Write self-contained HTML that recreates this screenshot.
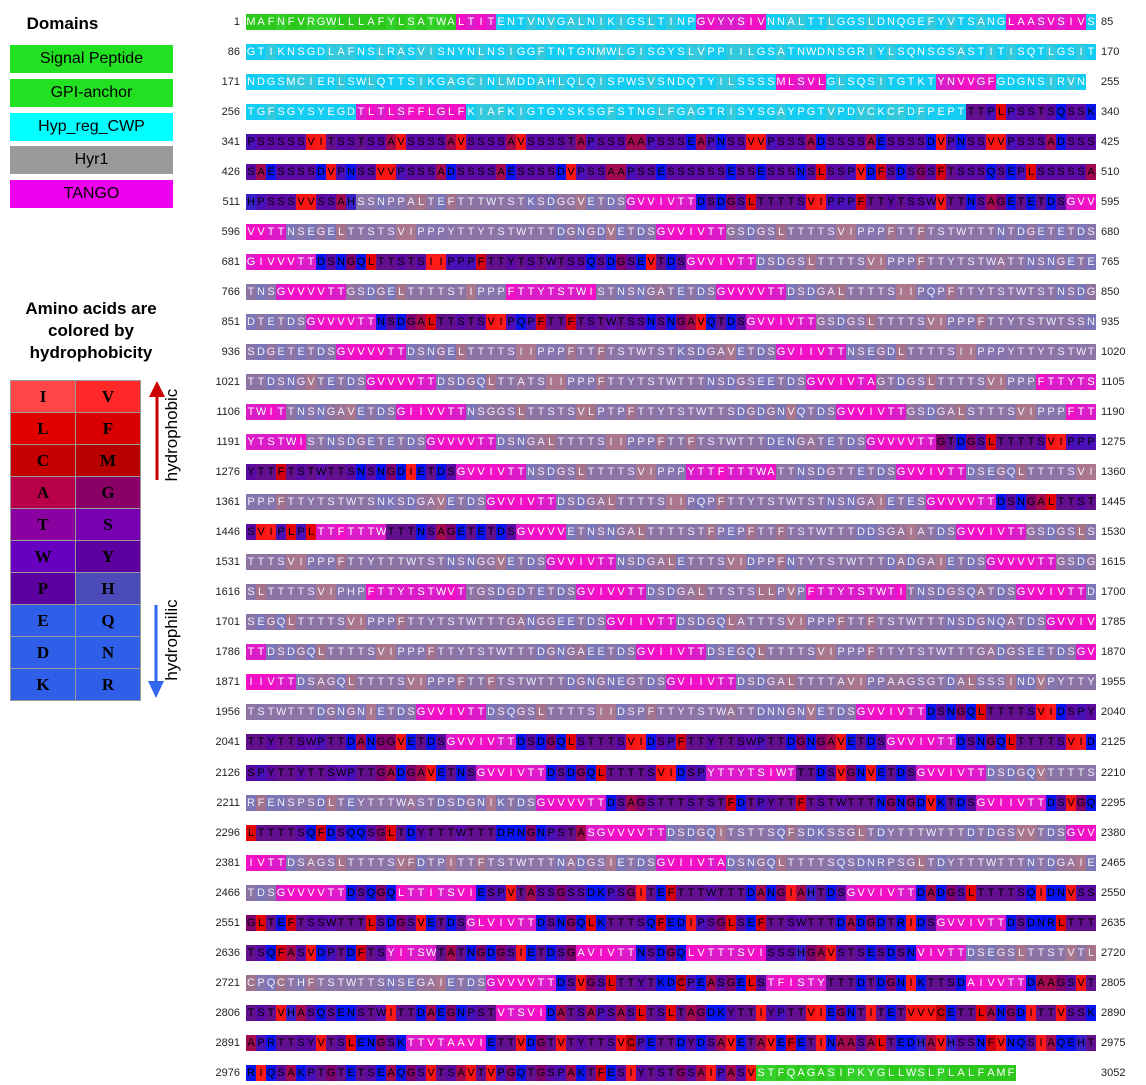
<!DOCTYPE html>
<html><head><meta charset="utf-8"><style>
body{margin:0;background:#fff;width:1146px;height:1085px;position:relative;overflow:hidden;font-family:"Liberation Sans",sans-serif}
.abs{position:absolute}
.dom{position:absolute;left:10px;width:163px;height:28px;font-size:16px;text-align:center;line-height:28px;color:#000}
.cell{position:absolute;width:10px;height:16px;font-size:11px;line-height:16px;text-align:center;font-family:"Liberation Sans",sans-serif}
.num{position:absolute;font-size:11px;line-height:16px;color:#222}
table.aa{position:absolute;left:10px;top:380px;border-collapse:collapse}
table.aa td{width:64px;height:31px;border:1px solid #999;text-align:center;font:bold 17px "Liberation Serif",serif;color:#000;padding:0}
</style></head><body>
<div class="abs" style="left:10px;top:14px;width:105px;text-align:center;font-weight:bold;font-size:17px">Domains</div>
<div class="dom" style="top:45px;background:#22e022">Signal Peptide</div>
<div class="dom" style="top:79px;background:#22e022">GPI-anchor</div>
<div class="dom" style="top:113px;background:#00ffff">Hyp_reg_CWP</div>
<div class="dom" style="top:146px;background:#9a9a9a">Hyr1</div>
<div class="dom" style="top:180px;background:#ee00ee">TANGO</div>
<div class="abs" style="left:0;top:298px;width:182px;text-align:center;font-weight:bold;font-size:17px;line-height:22px">Amino acids are<br>colored by<br>hydrophobicity</div>
<table class="aa">
<tr><td style="background:#ff4545">I</td><td style="background:#ff2828">V</td></tr>
<tr><td style="background:#e00000">L</td><td style="background:#d80000">F</td></tr>
<tr><td style="background:#c40000">C</td><td style="background:#b80000">M</td></tr>
<tr><td style="background:#b8004a">A</td><td style="background:#8a0066">G</td></tr>
<tr><td style="background:#8a00a0">T</td><td style="background:#7800b0">S</td></tr>
<tr><td style="background:#6800c0">W</td><td style="background:#5c00a0">Y</td></tr>
<tr><td style="background:#5c00a0">P</td><td style="background:#4a4ab8">H</td></tr>
<tr><td style="background:#2f5fe8">E</td><td style="background:#2f5fe8">Q</td></tr>
<tr><td style="background:#2f5fe8">D</td><td style="background:#2f5fe8">N</td></tr>
<tr><td style="background:#2f5fe8">K</td><td style="background:#2f5fe8">R</td></tr>
</table>
<svg class="abs" style="left:140px;top:375px" width="50" height="330">
<line x1="17" y1="105" x2="17" y2="20" stroke="#cc0000" stroke-width="3"/>
<polygon points="9,22 25,22 17,6" fill="#cc0000"/>
<text transform="translate(37,60) rotate(-90)" text-anchor="middle" font-size="17" font-family="Liberation Sans">hydrophobic</text>
<line x1="16" y1="230" x2="16" y2="310" stroke="#3366ee" stroke-width="3"/>
<polygon points="8,306 24,306 16,323" fill="#3366ee"/>
<text transform="translate(37,265) rotate(-90)" text-anchor="middle" font-size="17" font-family="Liberation Sans">hydrophilic</text>
</svg>
<div id="seq"></div>
<script>
const rowStarts=[1,86,171,256,341,426,511,596,681,766,851,936,1021,1106,1191,1276,1361,1446,1531,1616,1701,1786,1871,1956,2041,2126,2211,2296,2381,2466,2551,2636,2721,2806,2891,2976];
const rowEnds=[85,170,255,340,425,510,595,680,765,850,935,1020,1105,1190,1275,1360,1445,1530,1615,1700,1785,1870,1955,2040,2125,2210,2295,2380,2465,2550,2635,2720,2805,2890,2975,3052];
const rows=[
"g:MAFNFVRGWLLLAFYLSATWA|t:LTIT|c:ENTVNVGALNIKIGSLTINP|t:GVYYSIV|c:NNALTTLGGSLDNQGEFYVTSANG|t:LAASVSIV|c:S",
"c:GTIKNSGDLAFNSLRASVISNYNLNSIGGFTNTGNMWLGISGYSLVPPIILGSATNWDNSGRIYLSQNSGSASTITISQTLGSIT",
"c:NDGSMCIERLSWLQTTSIKGAGCINLMDDAHLQLQISPWSVSNDQTYILSSSS|t:MLSVL|c:GLSQSITGTKT|t:YNVVGF|c:GDGNSIRVN",
"c:TGFSGYSYEGD|t:TLTLSFFLGLF|c:KIAFKIGTGYSKSGFSTNGLFGAGTRISYSGAYPGTVPDVCKCFDFPEPT|u:TTPLPSSTSQSSK",
"u:PSSSSSVITSSTSSAVSSSSAVSSSSAVSSSSTAPSSSAAPSSSEAPNSSVVPSSSADSSSSAESSSSDVPNSSVVPSSSADSSS",
"u:SAESSSSDVPNSSVVPSSSADSSSSAESSSSDVPSSAAPSSESSSSSSESSESSSNSLSSPVDFSDSGSFTSSSQSEPLSSSSSA",
"u:HPSSSVVSSAH|h:SSNPPALTEFTTTWTSTKSDGGVETDS|t:GVVIVTT|u:DSDGSLTTTTSVIPPPFTTYTSSWVTTNSAGETETDS|t:GVV",
"t:VVTT|h:NSEGELTTSTSVIPPPYTTYTSTWTTTDGNGDVETDS|t:GVVIVTT|h:GSDGSLTTTTSVIPPPFTTFTSTWTTTNTDGETETDS",
"t:GIVVVTT|u:DSNGQLTTSTSIIPPPFTTYTSTWTSSQSDGSEVTDS|t:GVVIVTT|h:DSDGSLTTTTSVIPPPFTTYTSTWATTNSNGETE",
"h:TNS|t:GVVVVTT|h:GSDGELTTTTSTIPPP|t:FTTYTSTWI|h:STNSNGATETDS|t:GVVVVTT|h:DSDGALTTTTSIIPQPFTTYTSTWTSTNSDG",
"h:DTETDS|t:GVVVVTT|u:NSDGALTTSTSVIPQPFTTFTSTWTSSNSNGAVQTDS|t:GVVIVTT|h:GSDGSLTTTTSVIPPPFTTYTSTWTSSN",
"h:SDGETETDS|t:GVVVVTT|h:DSNGELTTTTSIIPPPFTTFTSTWTSTKSDGAVETDS|t:GVIIVTT|h:NSEGDLTTTTSIIPPPYTTYTSTWT",
"h:TTDSNGVTETDS|t:GVVVVTT|h:DSDGQLTTATSIIPPPFTTYTSTWTTTNSDGSEETDS|t:GVVIVTA|h:GTDGSLTTTTSVIPPP|t:FTTYTS",
"t:TWIT|h:TNSNGAVETDS|t:GIIVVTT|h:NSGGSLTTSTSVLPTPFTTYTSTWTTSDGDGNVQTDS|t:GVVIVTT|h:GSDGALSTTTSVIPPP|t:FTT",
"t:YTSTWI|h:STNSDGETETDS|t:GVVVVTT|h:DSNGALTTTTSIIPPPFTTFTSTWTTTDENGATETDS|t:GVVVVTT|u:GTDGSLTTTTSVIPPP",
"u:YTTFTSTWTTSNSNGDIETDS|t:GVVIVTT|h:NSDGSLTTTTSVIPPP|t:YTTFTTTWA|h:TTNSDGTTETDS|t:GVVIVTT|h:DSEGQLTTTTSVI",
"h:PPPFTTYTSTWTSNKSDGAVETDS|t:GVVIVTT|h:DSDGALTTTTSIIPQPFTTYTSTWTSTNSNGAIETES|t:GVVVVTT|u:DSNGALTTST",
"u:SVIPLPL|t:TTFTTTW|u:TTTNSAGETETDS|t:GVVVV|h:ETNSNGALTTTTSTFPEPFTTFTSTWTTTDDSGAIATDS|t:GVVIVTT|h:GSDGSLS",
"h:TTTSVIPPPFTTYTTTWTSTNSNGGVETDS|t:GVVIVTT|h:NSDGALETTTSVIDPPFNTYTSTWTTTDADGAIETDS|t:GVVVVTT|h:GSDG",
"h:SLTTTTSVIPHP|t:FTTYTSTWVT|h:TGSDGDTETDS|t:GVIVVTT|h:DSDGALTTSTSLLPVP|t:FTTYTSTWTI|h:TNSDGSQATDS|t:GVVIVTT|h:D",
"h:SEGQLTTTTSVIPPPFTTYTSTWTTTGANGGEETDS|t:GVIIVTT|h:DSDGQLATTTSVIPPPFTTFTSTWTTTNSDGNQATDS|t:GVVIV",
"t:TT|h:DSDGQLTTTTSVIPPPFTTYTSTWTTTDGNGAEETDS|t:GVIIVTT|h:DSEGQLTTTTSVIPPPFTTYTSTWTTTGADGSEETDS|t:GV",
"t:IIVTT|h:DSAGQLTTTTSVIPPPFTTFTSTWTTTDGNGNEGTDS|t:GVIIVTT|h:DSDGALTTTTAVIPPAAGSGTDALSSSINDVPYTTY",
"h:TSTWTTTDGNGNIETDS|t:GVVIVTT|h:DSQGSLTTTTSIIDSPFTTYTSTWATTDNNGNVETDS|t:GVVIVTT|u:DSNGQLTTTTSVIDSPY",
"u:TTYTTSWPTTDANGGVETDS|t:GVVIVTT|u:DSDGQLSTTTSVIDSPFTTYTTSWPTTDGNGAVETDS|t:GVVIVTT|u:DSNGQLTTTTSVID",
"u:SPYTTYTTSWPTTGADGAVETNS|t:GVVIVTT|u:DSDGQLTTTTSVIDSP|t:YTTYTSIWT|u:TTDSVGNVETDS|t:GVVIVTT|h:DSDGQVTTTTS",
"h:RFENSPSDLTEYTTTWASTDSDGNIKTDS|t:GVVVVTT|u:DSAGSTTTSTSTFDTPYTTFTSTWTTTNGNGDVKTDS|t:GVIIVTT|u:DSVGQ",
"u:LTTTTSQFDSQQSGLTDYTTTWTTTDRNGNPSTA|t:SGVVVVTT|h:DSDGQITSTTSQFSDKSSGLTDYTTTWTTTDTDGSVVTDS|t:GVV",
"t:IVTT|h:DSAGSLTTTTSVFDTPITTFTSTWTTTNADGSIETDS|t:GVIIVTA|h:DSNGQLTTTTSQSDNRPSGLTDYTTTWTTTNTDGAIE",
"h:TDS|t:GVVVVTT|u:DSQGQ|t:LTTITSVI|u:ESPVTASSGSSDKPSGITEFTTTWTTTDANGIAHTDS|t:GVVIVTT|u:DADGSLTTTTSQIDNVSS",
"u:GLTEFTSSWTTTLSDGSVETDS|t:GLVIVTT|u:DSNGQLKTTTSQFEDIPSGLSEFTTSWTTTDADGDTRIDS|t:GVVIVTT|u:DSDNRLTTT",
"u:TSQFASVDPTDFTS|t:YITSW|u:TATNGDGSIETDSG|t:AVIVTT|u:NSDGQ|t:LVTTTSVI|u:SSSHGAVSTSESDSN|t:VIVTT|h:DSEGSLTTSTVTL",
"h:CPQCTHFTSTWTTSNSEGAIETDS|t:GVVVVTT|u:DSVGSLTTYTKDCPEASGELS|t:TFISTY|u:TTTDTDGNIKTTSD|t:AIVVTT|u:DAAGSVT",
"u:TSTVHASQSENSTWITTDAEGNPST|t:VTSVI|u:DATSAPSASLTSLTAGDKYTTIYPTTVIEGNTITETVVVCETTLANGDITTVSSK",
"u:APRTTSYVTSLENGSK|t:TTVTAAVI|u:ETTVDGTVTYTTSVCPETTDYDSAVETAVEFETINAASALTEDHAVHSSNFVNQSIAQEHT",
"u:RIQSAKPTGTETSEAQGSVTSAVTVPGQTGSPAKTFESIYTSTGSAIPASV|g:STFQAGASIPKYGLLWSLPLALFAMF"
];
const aaColor={I:[255,26,26],V:[250,20,20],L:[228,6,6],F:[210,0,20],C:[190,0,16],M:[196,0,16],A:[164,10,80],G:[128,0,112],T:[98,16,142],S:[92,10,164],W:[96,16,176],Y:[90,10,160],P:[74,16,184],H:[56,32,200],E:[10,20,240],D:[10,20,240],N:[10,20,240],Q:[10,20,240],K:[10,20,240],R:[10,20,240]};
const hydrophobic="IVLFCMA";
function mix(a,b,t){return 'rgb('+a.map((v,i)=>Math.round(v*(1-t)+b[i]*t)).join(',')+')';}
function cellStyle(mode,ch){
  const c=aaColor[ch]||[90,10,160];
  if(mode==='u')return [mix(c,c,0),'#000'];
  if(mode==='h')return [mix(c,[150,142,170],0.8),'#eeeef6'];
  if(mode==='t')return [hydrophobic.includes(ch)?'#f210c6':'#dc1cc8','#fff'];
  if(mode==='c')return [hydrophobic.includes(ch)?'#34c8dc':'#14ccf2','#fff'];
  return [hydrophobic.includes(ch)?'#2cc81c':'#34d02a','#fff'];
}
const seq=document.getElementById('seq');
rows.forEach((r,ri)=>{
  const top=14+ri*30.02;
  const ln=document.createElement('div');
  ln.className='num';
  
  
  ln.style.left='190px';ln.style.width='50px';ln.style.textAlign='right';ln.style.top=top+'px';
  ln.textContent=rowStarts[ri];seq.appendChild(ln);
  const rn=document.createElement('div');
  rn.className='num';
  
  
  rn.style.left='1101px';rn.style.top=top+'px';
  rn.textContent=rowEnds[ri];seq.appendChild(rn);
  let k=0;
  r.split('|').forEach(seg=>{
    const mode=seg[0],txt=seg.slice(2);
    for(const ch of txt){
      const [bg,fg]=cellStyle(mode,ch);
      const d=document.createElement('div');
      d.className='cell';
      
      
      d.style.left=(246+k*10)+'px';d.style.top=top+'px';
      d.style.background=bg;d.style.color=fg;
      d.textContent=ch;seq.appendChild(d);k++;
    }
  });
});
</script>
</body></html>
